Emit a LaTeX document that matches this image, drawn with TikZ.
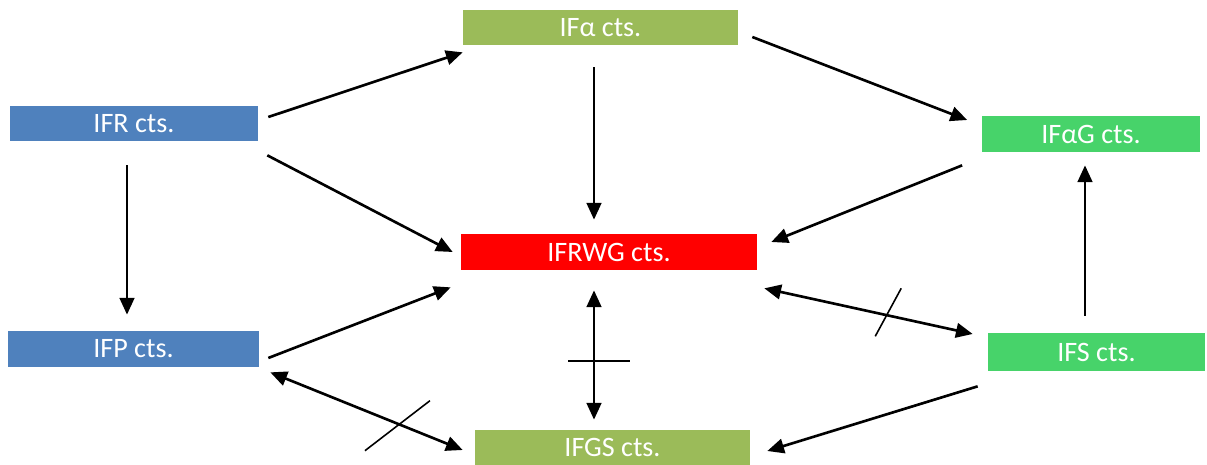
\documentclass[tikz,border=0pt]{standalone}
\usepackage{fontspec}
\setmainfont{Carlito}
\usetikzlibrary{arrows.meta}

\definecolor{boxblue}{HTML}{4F81BD}
\definecolor{boxolive}{HTML}{9BBB59}
\definecolor{boxgreen}{HTML}{47D36A}

\begin{document}
\begin{tikzpicture}[
    x=0.02cm, y=-0.02cm,
    every node/.style={font=\fontsize{16}{19}\selectfont, text=white, inner sep=0pt},
    box/.style={rectangle, minimum height=0.72cm},
    arr/.style={line width=1.5pt, -{Triangle[length=9.5pt, width=8.3pt]}},
    twoarr/.style={line width=1.5pt, {Triangle[length=9.5pt, width=8.3pt]}-{Triangle[length=9.5pt, width=8.3pt]}},
    cutmark/.style={line width=0.9pt}
]
    \useasboundingbox (0,0) rectangle (1207,465);

    % Boxes
    \node[box, fill=boxolive, minimum width=5.5cm, minimum height=0.7cm] (ifa) at (600.5,27.5) {IFα cts.};
    \node[box, fill=boxblue, minimum width=4.96cm, minimum height=0.7cm] (ifr) at (134,123.5) {IFR cts.};
    \node[box, fill=boxgreen, minimum width=4.38cm] (ifag) at (1091,134) {IFαG cts.};
    \node[box, fill=red, minimum width=5.92cm] (ifrwg) at (609,252) {IFRWG cts.};
    \node[box, fill=boxblue, minimum width=5.02cm] (ifp) at (133.5,349) {IFP cts.};
    \node[box, fill=boxgreen, minimum width=4.34cm, minimum height=0.76cm] (ifs) at (1096.5,352) {IFS cts.};
    \node[box, fill=boxolive, minimum width=5.5cm, minimum height=0.7cm] (ifgs) at (612.5,447.5) {IFGS cts.};

    % One-way arrows
    \draw[arr] ([shift={(10,-6.5)}]ifr.east) -- ([shift={(0,7)}]ifa.south west);
    \draw[arr] ([shift={(14,9.5)}]ifa.east) -- ([shift={(-14,-14)}]ifag.west);
    \draw[arr] ([shift={(-6.5,22)}]ifa.south) -- ([shift={(-15,-14)}]ifrwg.north);
    \draw[arr] ([shift={(9,14)}]ifr.south east) -- ([shift={(-8,0)}]ifrwg.west);
    \draw[arr] ([shift={(-19,13)}]ifag.south west) -- ([shift={(14,-10)}]ifrwg.east);
    \draw[arr] ([shift={(-7,24)}]ifr.south) -- ([shift={(-6.5,-16)}]ifp.north);
    \draw[arr] ([shift={(9,9)}]ifp.east) -- ([shift={(-10,17)}]ifrwg.south west);
    \draw[arr] ([shift={(-11.5,-17)}]ifs.north) -- ([shift={(-6,13)}]ifag.south);
    \draw[arr] ([shift={(-10,15)}]ifs.south west) -- ([shift={(17,3.5)}]ifgs.east);

    % Two-way arrows, struck through
    \draw[twoarr] ([shift={(-15,20)}]ifrwg.south) -- ([shift={(-18.5,-10)}]ifgs.north)
        coordinate[pos=0.546] (cutv);
    \draw[cutmark] ([shift={(-26,0)}]cutv) -- ([shift={(36,0)}]cutv);

    \draw[twoarr] ([shift={(7,18)}]ifrwg.south east) -- ([shift={(-15,-18)}]ifs.west)
        coordinate[pos=0.59] (cuts);
    \draw[cutmark] ([shift={(-12,21)}]cuts) -- ([shift={(14,-27)}]cuts);

    \draw[twoarr] ([shift={(11,5)}]ifp.south east) -- ([shift={(-12,2.5)}]ifgs.west)
        coordinate[pos=0.674] (cutp);
    \draw[cutmark] ([shift={(-35,26)}]cutp) -- ([shift={(30,-24)}]cutp);

\end{tikzpicture}
\end{document}
